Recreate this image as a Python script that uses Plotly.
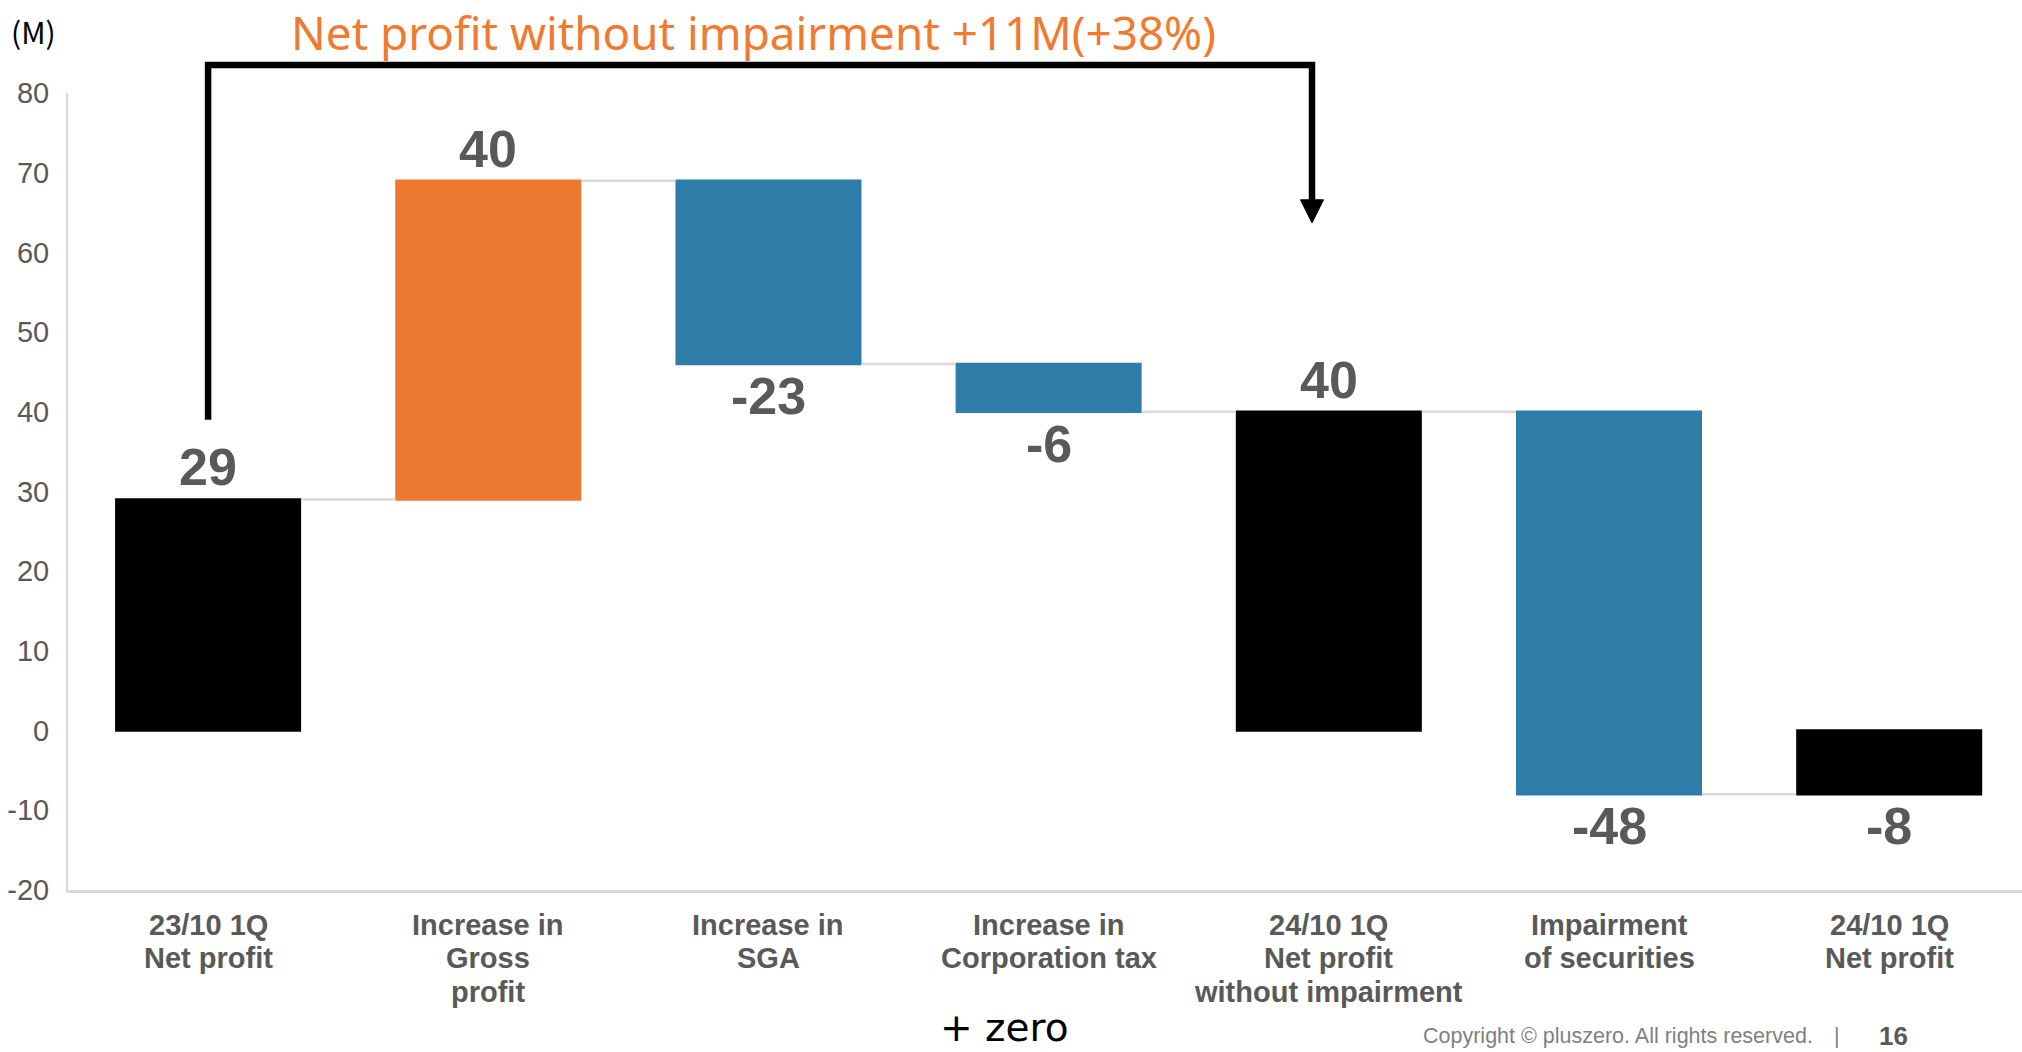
import plotly.graph_objects as go

# ---- data ----
categories = [
    "23/10 1Q<br>Net profit",
    "Increase in<br>Gross<br>profit",
    "Increase in<br>SGA",
    "Increase in<br>Corporation tax",
    "24/10 1Q<br>Net profit<br>without impairment",
    "Impairment<br>of securities",
    "24/10 1Q<br>Net profit",
]
measures = ["absolute", "relative", "relative", "relative", "total", "relative", "total"]
values = [29, 40, -23, -6, 0, -48, 0]
value_labels = ["29", "40", "-23", "-6", "40", "-48", "-8"]
y_ticks = [-20, -10, 0, 10, 20, 30, 40, 50, 60, 70, 80]
y_tick_labels = ["-20", "-10", "0", "10", "20", "30", "40", "50", "60", "70", "80"]

ORANGE = "#ED7931"
BLUE = "#2E7DA8"
BLACK = "#000000"
GRAY = "#595959"

W, H = 2022, 1052
ML, MR, MT, MB = 68, 0, 93, 162
XR = [-0.5, 6.474]
YR = [-20, 80]

x_idx = list(range(len(categories)))

fig = go.Figure()
fig.add_trace(go.Waterfall(
    x=x_idx,
    y=values,
    measure=measures,
    width=0.664,
    increasing=dict(marker=dict(color=ORANGE, line=dict(width=0))),
    decreasing=dict(marker=dict(color=BLUE, line=dict(width=0))),
    totals=dict(marker=dict(color=BLACK, line=dict(width=0))),
    connector=dict(line=dict(color="#d9d9d9", width=2.5), mode="between"),
    hoverinfo="skip",
    showlegend=False,
))

# value labels at the bar ends
run = 0
for i, (m, v) in enumerate(zip(measures, values)):
    if m == "absolute":
        start, end = 0, v
        run = v
    elif m == "relative":
        start, end = run, run + v
        run = end
    else:
        start, end = 0, run
    above = end >= start
    fig.add_annotation(
        x=i, y=end, xref="x", yref="y",
        text=value_labels[i], showarrow=False,
        yshift=32 if above else -32,
        font=dict(family="Liberation Sans, Arial, sans-serif", size=52, color=GRAY, weight="bold"),
    )

# helpers to convert data coords to paper
def px(x):
    return (x - XR[0]) / (XR[1] - XR[0])

def py(y):
    return (y - YR[0]) / (YR[1] - YR[0])

# category labels, one annotation per line (tighter line spacing than plotly's default)
for i, cat in enumerate(categories):
    for j, line in enumerate(cat.split("<br>")):
        fig.add_annotation(
            x=i, xref="x", y=(H - MB - (925 + j * 33.5)) / (H - MT - MB), yref="paper",
            text=line, showarrow=False, xanchor="center", yanchor="middle",
            font=dict(family="Liberation Sans, Arial, sans-serif", size=29, color=GRAY, weight="bold"),
        )

# bracket with arrow
bx0, bx1 = 0, 3.94
by_bot, by_top, by_head, by_tip = 39, 83.5, 66.3, 63.7
fig.add_shape(
    type="path", xref="paper", yref="paper",
    path=f"M {px(bx0)},{py(by_bot)} L {px(bx0)},{py(by_top)} L {px(bx1)},{py(by_top)} L {px(bx1)},{py(by_head)}",
    line=dict(color="black", width=6.5),
)
hw = 0.041  # half width of arrow head in category units
fig.add_shape(
    type="path", xref="paper", yref="paper",
    path=f"M {px(bx1-hw)},{py(by_head+0.3)} L {px(bx1+hw)},{py(by_head+0.3)} L {px(bx1)},{py(by_tip)} Z",
    fillcolor="black", line=dict(color="black", width=1),
)

def abs_ann(xpx, ypx, text, size, color, family, xanchor="left", weight="normal"):
    fig.add_annotation(
        x=(xpx - ML) / (W - ML - MR), y=(H - MB - ypx) / (H - MT - MB),
        xref="paper", yref="paper", text=text, showarrow=False,
        xanchor=xanchor, yanchor="middle",
        font=dict(family=family, size=size, color=color, weight=weight),
    )

abs_ann(289, 32, "Net profit without impairment +11M(+38%)", 45.8, "#F07A30", "Noto Sans, Open Sans, sans-serif")
abs_ann(9, 31, "(M)", 30, "#000000", "Noto Sans CJK JP, Noto Sans, sans-serif")
abs_ann(938, 1027, "+ zero", 39, "#000000", "DejaVu Sans, Noto Sans, sans-serif")
abs_ann(1421, 1036, "Copyright © pluszero. All rights reserved.", 21.5, "#7f7f7f", "Liberation Sans, Arial, sans-serif")
abs_ann(1832, 1036, "|", 21.5, "#7f7f7f", "Liberation Sans, Arial, sans-serif")
abs_ann(1877, 1036, "16", 26, GRAY, "Liberation Sans, Arial, sans-serif", weight="bold")

fig.update_layout(
    width=W, height=H,
    margin=dict(l=ML, r=MR, t=MT, b=MB, pad=0),
    paper_bgcolor="white", plot_bgcolor="white",
    xaxis=dict(
        range=XR, tickmode="array", tickvals=x_idx, showticklabels=False,
        showgrid=False, zeroline=False, showline=True, linecolor="#d9d9d9", linewidth=2.5,
        ticks="", fixedrange=True,
    ),
    yaxis=dict(
        range=YR, tickmode="array", tickvals=y_ticks, ticktext=y_tick_labels,
        showgrid=False, zeroline=False, showline=True, linecolor="#d9d9d9", linewidth=2,
        ticks="outside", ticklen=11, tickcolor="rgba(0,0,0,0)",
        tickfont=dict(family="Liberation Sans, Arial, sans-serif", size=29, color=GRAY),
        fixedrange=True,
    ),
    showlegend=False,
)

fig.write_html("out.html")
